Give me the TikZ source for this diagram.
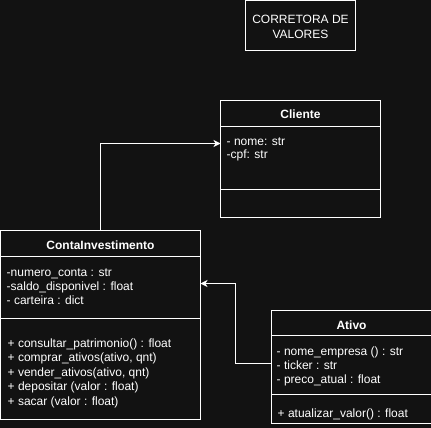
\documentclass[tikz,border=0pt]{standalone}
\usepackage{fontspec}
\setmainfont{Liberation Sans}
\usetikzlibrary{arrows.meta}
\definecolor{bg}{RGB}{18,18,18}
\tikzset{
  box/.style={draw=white, line width=1pt},
  sep/.style={draw=white, line width=1pt},
  txt/.style={anchor=base west, inner sep=0pt, text=white, font=\fontsize{12}{14}\selectfont},
  ttl/.style={anchor=base, inner sep=0pt, text=white, font=\fontsize{12}{14}\selectfont\bfseries},
  ctr/.style={anchor=base, inner sep=0pt, text=white, font=\fontsize{12}{14}\selectfont},
  conn/.style={draw=white, line width=1pt, -{Stealth[length=7pt,width=7pt,inset=2pt]}},
}
\begin{document}
\begin{tikzpicture}[x=1pt,y=-1pt]
\fill[bg] (0,0) rectangle (431,428);
\useasboundingbox (0,0) rectangle (431,428);

% Corretora
\draw[box] (245.5,0.5) rectangle (355.5,50.5);
\node[ctr] (c1) at (300.5,23.5) {CORRETORA DE};
\node[ctr] (c2) at (300.5,38.5) {VALORES};

% Cliente
\draw[box] (220.5,100.5) rectangle (380.5,217.5);
\draw[sep] (220.5,126.5) -- (380.5,126.5);
\draw[sep] (220.5,189.5) -- (380.5,189.5);
\node[ttl] (cliT) at (300.5,118.5) {Cliente};
\node[txt] (cliA1) at (226.5,145.5) {- nome: str};
\node[txt] (cliA2) at (226.5,158.5) {-cpf: str};
\coordinate (cliIn) at (220.5,143.5);

% ContaInvestimento
\draw[box] (0.5,230.5) rectangle (200.5,419.5);
\draw[sep] (0.5,256.5) -- (200.5,256.5);
\draw[sep] (0.5,318.5) -- (200.5,318.5);
\node[ttl] (ciT) at (100.5,249.5) {ContaInvestimento};
\node[txt] (ciA1) at (6.5,276) {-numero\_conta : str};
\node[txt] (ciA2) at (6.5,290) {-saldo\_disponivel : float};
\node[txt] (ciA3) at (6.5,304) {- carteira : dict};
\node[txt] (ciM1) at (7.5,347.5) {+ consultar\_patrimonio() : float};
\node[txt] (ciM2) at (7.5,361.5) {+ comprar\_ativos(ativo, qnt)};
\node[txt] (ciM3) at (7.5,376) {+ vender\_ativos(ativo, qnt)};
\node[txt] (ciM4) at (7.5,390) {+ depositar (valor : float)};
\node[txt] (ciM5) at (7.5,405) {+ sacar (valor : float)};
\coordinate (ciTop) at (100.5,230.5);
\coordinate (ciIn) at (200.5,283.5);

% Ativo
\draw[box] (271.5,310.5) rectangle (431.5,423.5);
\draw[sep] (271.5,335.5) -- (431.5,335.5);
\draw[sep] (271.5,394.5) -- (431.5,394.5);
\node[ttl] (atT) at (351.5,329.5) {Ativo};
\node[txt] (atA1) at (276.5,355) {- nome\_empresa () : str};
\node[txt] (atA2) at (276.5,369.5) {- ticker : str};
\node[txt] (atA3) at (276.5,383.5) {- preco\_atual : float};
\node[txt] (atM1) at (277.5,417.5) {+ atualizar\_valor() : float};
\coordinate (atOut) at (271.5,363.5);

% connectors
\draw[conn] (ciTop) |- (cliIn);
\draw[conn] (atOut) -- (235.5,363.5) |- (ciIn);
\end{tikzpicture}
\end{document}
